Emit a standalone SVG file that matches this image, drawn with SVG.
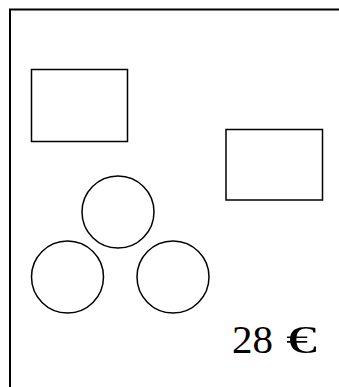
<svg xmlns="http://www.w3.org/2000/svg" width="339" height="387" viewBox="0 0 339 387">
<style>
.s{fill:none;stroke:#000;stroke-width:1.5}
.f{fill:none;stroke:#000;stroke-width:2}
.t{font-family:"Liberation Serif","Times New Roman",serif;font-size:41px;fill:#000}
</style>
<rect width="339" height="387" fill="#fff"/>
<g id="frame"><rect class="f" x="10" y="9.5" width="340" height="390"/></g>
<g id="rect1"><rect class="s" x="31.5" y="69.5" width="96" height="72"/></g>
<g id="rect2"><rect class="s" x="226" y="129.5" width="96.5" height="70.5"/></g>
<g id="circle-top"><circle class="s" cx="118" cy="212" r="36"/></g>
<g id="circle-left"><circle class="s" cx="67.5" cy="277" r="36"/></g>
<g id="circle-right"><circle class="s" cx="173" cy="277" r="36"/></g>
<g id="connectors"/>
<g id="price"><text class="t" x="232" y="353">28 <tspan x="286" textLength="31" lengthAdjust="spacingAndGlyphs">€</tspan></text></g>
</svg>
